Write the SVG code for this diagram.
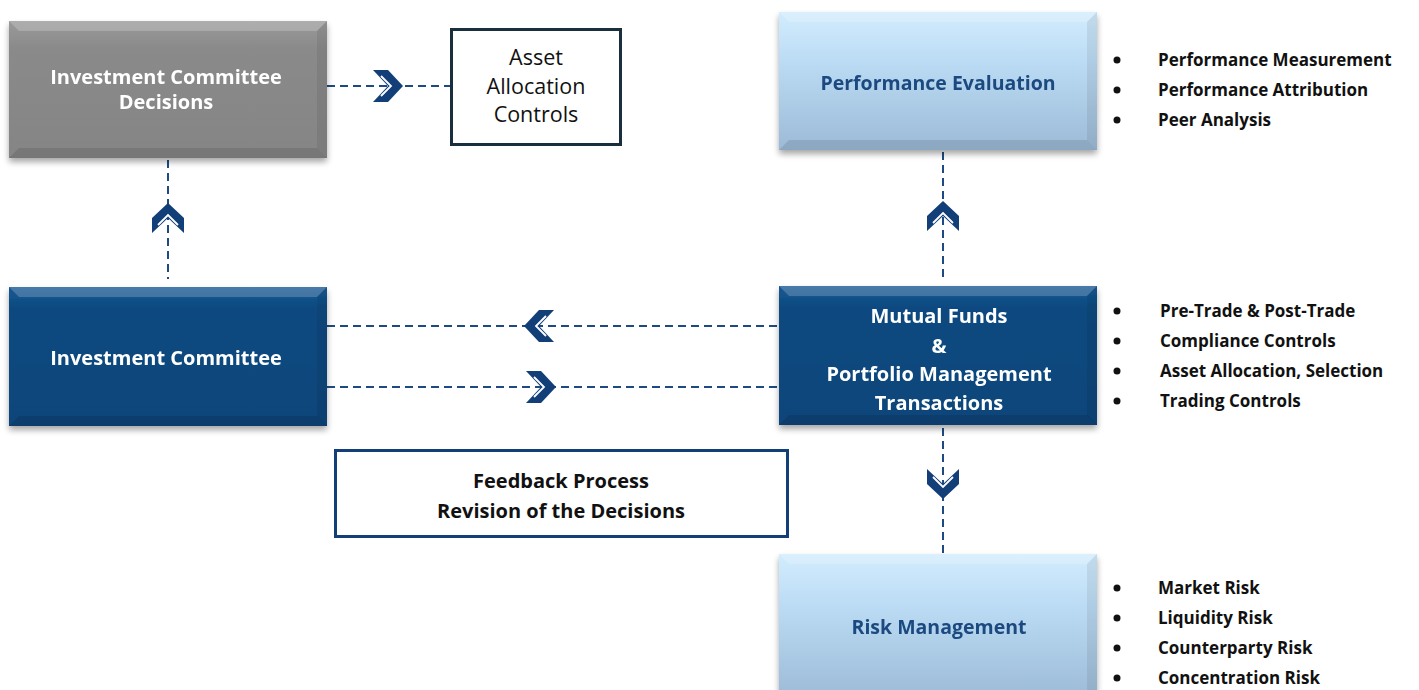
<svg xmlns="http://www.w3.org/2000/svg" width="1419" height="690" viewBox="0 0 1419 690">
  <defs>
    <linearGradient id="gDark" x1="0" y1="0" x2="0" y2="1">
      <stop offset="0" stop-color="#1a5a94"/>
      <stop offset="0.15" stop-color="#0b4a80"/>
      <stop offset="1" stop-color="#08457a"/>
    </linearGradient>
    <linearGradient id="gLight" x1="0" y1="0" x2="0" y2="1">
      <stop offset="0" stop-color="#d2ecfd"/>
      <stop offset="0.35" stop-color="#bcdcf5"/>
      <stop offset="1" stop-color="#9cbad6"/>
    </linearGradient>
    <linearGradient id="gGray" x1="0" y1="0" x2="0" y2="1">
      <stop offset="0" stop-color="#9a9a9a"/>
      <stop offset="0.2" stop-color="#8a8a8a"/>
      <stop offset="1" stop-color="#858585"/>
    </linearGradient>
    <filter id="shadow" x="-5%" y="-5%" width="110%" height="115%">
      <feGaussianBlur in="SourceAlpha" stdDeviation="3"/>
      <feOffset dx="0" dy="4" result="b"/>
      <feComponentTransfer><feFuncA type="linear" slope="0.35"/></feComponentTransfer>
      <feMerge><feMergeNode/><feMergeNode in="SourceGraphic"/></feMerge>
    </filter>
    <!-- double chevron pointing right, centred on the origin -->
    <g id="chev">
      <polygon points="-15,-16 0,-16 15,0 0,16 -15,16 0,0" fill="#123f78"/>
      <polyline points="-7,-10 3,0 -7,10" fill="none" stroke="#ffffff" stroke-width="1.8"/>
    </g>
  </defs>
  <style>
    .dash { fill: none; stroke: #1d4a82; stroke-width: 2; stroke-dasharray: 8 5; }
    .lblW { font-family: "Open Sans", "Liberation Sans", sans-serif; font-weight: 700; font-size: 20px; fill: #ffffff; text-anchor: middle; }
    .lblB { font-family: "Open Sans", "Liberation Sans", sans-serif; font-weight: 700; font-size: 19.5px; fill: #1b4a80; text-anchor: middle; }
    .lblK { font-family: "Open Sans", "Liberation Sans", sans-serif; font-weight: 700; font-size: 20px; fill: #111111; text-anchor: middle; }
    .lblN { font-family: "Open Sans", "Liberation Sans", sans-serif; font-weight: 400; font-size: 21.5px; fill: #111111; text-anchor: middle; }
    .bul { font-family: "Open Sans", "Liberation Sans", sans-serif; font-weight: 700; font-size: 17px; fill: #111111; }
    .dot { fill: #111111; }
    .bevT { fill: #ffffff; opacity: 0.2; }
    .bevB { fill: #000000; opacity: 0.1; }
    .bevS { fill: #000000; opacity: 0.07; }
  </style>

  <!-- connectors -->
  <g id="connectors">
    <line class="dash" x1="327" y1="86" x2="450" y2="86"/>
    <use href="#chev" transform="translate(388,86)"/>

    <line class="dash" x1="168" y1="160" x2="168" y2="279"/>
    <use href="#chev" transform="translate(168,218) rotate(-90)"/>

    <line class="dash" x1="943" y1="152" x2="943" y2="280"/>
    <use href="#chev" transform="translate(943,216) rotate(-90)"/>

    <line class="dash" x1="327" y1="326" x2="779" y2="326"/>
    <use href="#chev" transform="translate(539,326) rotate(180)"/>

    <line class="dash" x1="327" y1="387" x2="779" y2="387"/>
    <use href="#chev" transform="translate(541,387)"/>

    <line class="dash" x1="943" y1="428" x2="943" y2="553"/>
    <use href="#chev" transform="translate(943,484) rotate(90)"/>
  </g>

  <!-- Investment Committee Decisions -->
  <g id="node-ic-decisions" filter="url(#shadow)">
    <rect x="9" y="21" width="318" height="137" fill="url(#gGray)"/>
    <polygon class="bevT" points="9,21 327,21 317,31 19,31"/>
    <polygon class="bevB" points="9,158 327,158 317,148 19,148"/>
    <polygon class="bevS" points="327,21 327,158 317,148 317,31"/>
    <text class="lblW" x="166" y="84">Investment Committee</text>
    <text class="lblW" x="166" y="109">Decisions</text>
  </g>

  <!-- Asset Allocation Controls -->
  <g id="node-asset-allocation">
    <rect x="451.5" y="29.5" width="169" height="115" fill="#ffffff" stroke="#1a2f3d" stroke-width="3"/>
    <text class="lblN" x="536" y="65">Asset</text>
    <text class="lblN" x="536" y="94">Allocation</text>
    <text class="lblN" x="536" y="122">Controls</text>
  </g>

  <!-- Performance Evaluation -->
  <g id="node-performance" filter="url(#shadow)">
    <rect x="779" y="12" width="318" height="138" fill="url(#gLight)"/>
    <polygon class="bevT" points="779,12 1097,12 1087,22 789,22"/>
    <polygon class="bevB" points="779,150 1097,150 1087,140 789,140"/>
    <polygon class="bevS" points="1097,12 1097,150 1087,140 1087,22"/>
    <text class="lblB" x="938" y="90">Performance Evaluation</text>
  </g>
  <g id="list-performance">
    <circle class="dot" cx="1117" cy="60" r="3.5"/>
    <circle class="dot" cx="1117" cy="90" r="3.5"/>
    <circle class="dot" cx="1117" cy="120" r="3.5"/>
    <text class="bul" x="1158" y="66">Performance Measurement</text>
    <text class="bul" x="1158" y="96">Performance Attribution</text>
    <text class="bul" x="1158" y="126">Peer Analysis</text>
  </g>

  <!-- Investment Committee -->
  <g id="node-ic" filter="url(#shadow)">
    <rect x="9" y="287" width="318" height="139" fill="url(#gDark)"/>
    <polygon class="bevT" points="9,287 327,287 317,297 19,297"/>
    <polygon class="bevB" points="9,426 327,426 317,416 19,416"/>
    <polygon class="bevS" points="327,287 327,426 317,416 317,297"/>
    <text class="lblW" x="166" y="365">Investment Committee</text>
  </g>

  <!-- Mutual Funds & Portfolio Management Transactions -->
  <g id="node-mutual-funds" filter="url(#shadow)">
    <rect x="779" y="286" width="318" height="139" fill="url(#gDark)"/>
    <polygon class="bevT" points="779,286 1097,286 1087,296 789,296"/>
    <polygon class="bevB" points="779,425 1097,425 1087,415 789,415"/>
    <polygon class="bevS" points="1097,286 1097,425 1087,415 1087,296"/>
    <text class="lblW" x="939" y="323">Mutual Funds</text>
    <text class="lblW" x="939" y="353">&amp;</text>
    <text class="lblW" x="939" y="381">Portfolio Management</text>
    <text class="lblW" x="939" y="410">Transactions</text>
  </g>
  <g id="list-mutual-funds">
    <circle class="dot" cx="1117" cy="311" r="3.5"/>
    <circle class="dot" cx="1117" cy="341" r="3.5"/>
    <circle class="dot" cx="1117" cy="371" r="3.5"/>
    <circle class="dot" cx="1117" cy="401" r="3.5"/>
    <text class="bul" x="1160" y="317">Pre-Trade &amp; Post-Trade</text>
    <text class="bul" x="1160" y="347">Compliance  Controls</text>
    <text class="bul" x="1160" y="377">Asset Allocation,  Selection</text>
    <text class="bul" x="1160" y="407">Trading Controls</text>
  </g>

  <!-- Feedback Process -->
  <g id="node-feedback">
    <rect x="335.5" y="450.5" width="452" height="86" fill="#ffffff" stroke="#123f78" stroke-width="3"/>
    <text class="lblK" x="561" y="488">Feedback Process</text>
    <text class="lblK" x="561" y="518">Revision of the Decisions</text>
  </g>

  <!-- Risk Management -->
  <g id="node-risk" filter="url(#shadow)">
    <rect x="779" y="554" width="318" height="145" fill="url(#gLight)"/>
    <polygon class="bevT" points="779,554 1097,554 1087,564 789,564"/>
    <polygon class="bevS" points="1097,554 1097,699 1087,689 1087,564"/>
    <text class="lblB" x="939" y="634">Risk Management</text>
  </g>
  <g id="list-risk">
    <circle class="dot" cx="1117" cy="588" r="3.5"/>
    <circle class="dot" cx="1117" cy="618" r="3.5"/>
    <circle class="dot" cx="1117" cy="648" r="3.5"/>
    <circle class="dot" cx="1117" cy="678" r="3.5"/>
    <text class="bul" x="1158" y="594">Market Risk</text>
    <text class="bul" x="1158" y="624">Liquidity  Risk</text>
    <text class="bul" x="1158" y="654">Counterparty  Risk</text>
    <text class="bul" x="1158" y="684">Concentration  Risk</text>
  </g>
</svg>
